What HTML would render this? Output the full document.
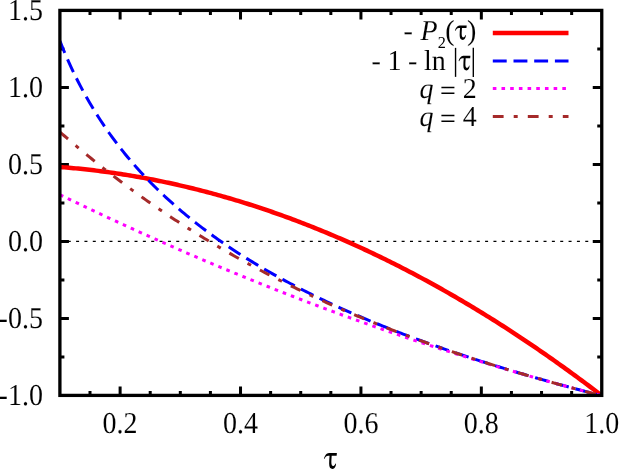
<!DOCTYPE html>
<html><head><meta charset="utf-8"><title>plot</title>
<style>html,body{margin:0;padding:0;background:#fff;overflow:hidden}body{width:619px;height:470px;font-family:"Liberation Serif",serif}</style></head>
<body>
<svg width="619" height="470" viewBox="0 0 619 470" style="display:block;will-change:transform">
<rect x="0" y="0" width="619" height="470" fill="#fff"/>
<path d="M90.00,395.4 v-4.5 M90.00,10.4 v4.5 M120.11,395.4 v-9 M120.11,10.4 v9 M150.21,395.4 v-4.5 M150.21,10.4 v4.5 M180.31,395.4 v-4.5 M180.31,10.4 v4.5 M210.41,395.4 v-4.5 M210.41,10.4 v4.5 M240.52,395.4 v-9 M240.52,10.4 v9 M270.62,395.4 v-4.5 M270.62,10.4 v4.5 M300.72,395.4 v-4.5 M300.72,10.4 v4.5 M330.83,395.4 v-4.5 M330.83,10.4 v4.5 M360.93,395.4 v-9 M360.93,10.4 v9 M391.03,395.4 v-4.5 M391.03,10.4 v4.5 M421.13,395.4 v-4.5 M421.13,10.4 v4.5 M451.24,395.4 v-4.5 M451.24,10.4 v4.5 M481.34,395.4 v-9 M481.34,10.4 v9 M511.44,395.4 v-4.5 M511.44,10.4 v4.5 M541.54,395.4 v-4.5 M541.54,10.4 v4.5 M571.65,395.4 v-4.5 M571.65,10.4 v4.5 M59.9,356.90 h4.5 M601.75,356.90 h-4.5 M59.9,318.40 h9 M601.75,318.40 h-9 M59.9,279.90 h4.5 M601.75,279.90 h-4.5 M59.9,241.40 h9 M601.75,241.40 h-9 M59.9,202.90 h4.5 M601.75,202.90 h-4.5 M59.9,164.40 h9 M601.75,164.40 h-9 M59.9,125.90 h4.5 M601.75,125.90 h-4.5 M59.9,87.40 h9 M601.75,87.40 h-9 M59.9,48.90 h4.5 M601.75,48.90 h-4.5" stroke="#000" stroke-width="3" fill="none"/>
<line x1="59.9" y1="241.40" x2="601.75" y2="241.40" stroke="#000" stroke-width="1.2" stroke-dasharray="3 5.347" stroke-dashoffset="0.5"/>
<clipPath id="c"><rect x="59.9" y="10.4" width="541.85" height="385.0"/></clipPath>
<g fill="none" clip-path="url(#c)"><g transform="translate(0.1,0.3)">
<path d="M59.90,166.71 L62.16,166.89 L64.42,167.07 L66.67,167.26 L68.93,167.45 L71.19,167.66 L73.45,167.87 L75.70,168.08 L77.96,168.30 L80.22,168.53 L82.48,168.77 L84.73,169.01 L86.99,169.26 L89.25,169.51 L91.51,169.77 L93.77,170.04 L96.02,170.31 L98.28,170.59 L100.54,170.88 L102.80,171.17 L105.05,171.47 L107.31,171.78 L109.57,172.09 L111.83,172.41 L114.08,172.74 L116.34,173.07 L118.60,173.41 L120.86,173.76 L123.12,174.11 L125.37,174.47 L127.63,174.83 L129.89,175.20 L132.15,175.58 L134.40,175.96 L136.66,176.36 L138.92,176.75 L141.18,177.16 L143.44,177.57 L145.69,177.98 L147.95,178.41 L150.21,178.84 L152.47,179.27 L154.72,179.72 L156.98,180.17 L159.24,180.62 L161.50,181.08 L163.75,181.55 L166.01,182.03 L168.27,182.51 L170.53,183.00 L172.79,183.49 L175.04,183.99 L177.30,184.50 L179.56,185.02 L181.82,185.54 L184.07,186.07 L186.33,186.60 L188.59,187.14 L190.85,187.69 L193.10,188.24 L195.36,188.80 L197.62,189.37 L199.88,189.94 L202.14,190.52 L204.39,191.10 L206.65,191.70 L208.91,192.29 L211.17,192.90 L213.42,193.51 L215.68,194.13 L217.94,194.75 L220.20,195.39 L222.46,196.02 L224.71,196.67 L226.97,197.32 L229.23,197.98 L231.49,198.64 L233.74,199.31 L236.00,199.99 L238.26,200.67 L240.52,201.36 L242.77,202.06 L245.03,202.76 L247.29,203.47 L249.55,204.18 L251.81,204.91 L254.06,205.63 L256.32,206.37 L258.58,207.11 L260.84,207.86 L263.09,208.61 L265.35,209.38 L267.61,210.14 L269.87,210.92 L272.12,211.70 L274.38,212.49 L276.64,213.28 L278.90,214.08 L281.16,214.89 L283.41,215.70 L285.67,216.52 L287.93,217.35 L290.19,218.18 L292.44,219.02 L294.70,219.86 L296.96,220.72 L299.22,221.57 L301.47,222.44 L303.73,223.31 L305.99,224.19 L308.25,225.07 L310.51,225.96 L312.76,226.86 L315.02,227.77 L317.28,228.68 L319.54,229.59 L321.79,230.52 L324.05,231.45 L326.31,232.38 L328.57,233.33 L330.83,234.28 L333.08,235.23 L335.34,236.20 L337.60,237.17 L339.86,238.14 L342.11,239.12 L344.37,240.11 L346.63,241.11 L348.89,242.11 L351.14,243.12 L353.40,244.13 L355.66,245.15 L357.92,246.18 L360.18,247.21 L362.43,248.25 L364.69,249.30 L366.95,250.36 L369.21,251.42 L371.46,252.48 L373.72,253.55 L375.98,254.63 L378.24,255.72 L380.49,256.81 L382.75,257.91 L385.01,259.02 L387.27,260.13 L389.53,261.25 L391.78,262.37 L394.04,263.50 L396.30,264.64 L398.56,265.79 L400.81,266.94 L403.07,268.10 L405.33,269.26 L407.59,270.43 L409.84,271.61 L412.10,272.79 L414.36,273.98 L416.62,275.18 L418.88,276.38 L421.13,277.59 L423.39,278.81 L425.65,280.03 L427.91,281.26 L430.16,282.49 L432.42,283.73 L434.68,284.98 L436.94,286.24 L439.20,287.50 L441.45,288.77 L443.71,290.04 L445.97,291.32 L448.23,292.61 L450.48,293.90 L452.74,295.21 L455.00,296.51 L457.26,297.83 L459.51,299.15 L461.77,300.47 L464.03,301.80 L466.29,303.14 L468.55,304.49 L470.80,305.84 L473.06,307.20 L475.32,308.57 L477.58,309.94 L479.83,311.32 L482.09,312.70 L484.35,314.09 L486.61,315.49 L488.86,316.90 L491.12,318.31 L493.38,319.72 L495.64,321.15 L497.90,322.58 L500.15,324.02 L502.41,325.46 L504.67,326.91 L506.93,328.37 L509.18,329.83 L511.44,331.30 L513.70,332.77 L515.96,334.26 L518.21,335.74 L520.47,337.24 L522.73,338.74 L524.99,340.25 L527.25,341.77 L529.50,343.29 L531.76,344.81 L534.02,346.35 L536.28,347.89 L538.53,349.44 L540.79,350.99 L543.05,352.55 L545.31,354.12 L547.57,355.69 L549.82,357.27 L552.08,358.86 L554.34,360.45 L556.60,362.05 L558.85,363.66 L561.11,365.27 L563.37,366.89 L565.63,368.51 L567.88,370.14 L570.14,371.78 L572.40,373.43 L574.66,375.08 L576.92,376.74 L579.17,378.40 L581.43,380.07 L583.69,381.75 L585.95,383.43 L588.20,385.12 L590.46,386.82 L592.72,388.52 L594.98,390.23 L597.23,391.95 L599.49,393.67 L601.75,395.40" stroke="#ff0000" stroke-width="4.5"/>
<path d="M59.90,40.80 L62.16,46.47 L64.42,51.94 L66.67,57.22 L68.93,62.33 L71.19,67.27 L73.45,72.05 L75.70,76.70 L77.96,81.21 L80.22,85.59 L82.48,89.84 L84.73,93.99 L86.99,98.02 L89.25,101.95 L91.51,105.79 L93.77,109.53 L96.02,113.18 L98.28,116.75 L100.54,120.24 L102.80,123.65 L105.05,126.98 L107.31,130.25 L109.57,133.45 L111.83,136.58 L114.08,139.65 L116.34,142.66 L118.60,145.61 L120.86,148.51 L123.12,151.35 L125.37,154.14 L127.63,156.88 L129.89,159.58 L132.15,162.22 L134.40,164.83 L136.66,167.39 L138.92,169.90 L141.18,172.38 L143.44,174.82 L145.69,177.22 L147.95,179.58 L150.21,181.91 L152.47,184.20 L154.72,186.46 L156.98,188.69 L159.24,190.88 L161.50,193.05 L163.75,195.18 L166.01,197.29 L168.27,199.36 L170.53,201.41 L172.79,203.43 L175.04,205.43 L177.30,207.40 L179.56,209.35 L181.82,211.27 L184.07,213.16 L186.33,215.04 L188.59,216.89 L190.85,218.72 L193.10,220.53 L195.36,222.31 L197.62,224.08 L199.88,225.83 L202.14,227.56 L204.39,229.26 L206.65,230.95 L208.91,232.62 L211.17,234.28 L213.42,235.91 L215.68,237.53 L217.94,239.13 L220.20,240.72 L222.46,242.29 L224.71,243.84 L226.97,245.38 L229.23,246.90 L231.49,248.41 L233.74,249.90 L236.00,251.38 L238.26,252.84 L240.52,254.29 L242.77,255.73 L245.03,257.15 L247.29,258.56 L249.55,259.96 L251.81,261.35 L254.06,262.72 L256.32,264.08 L258.58,265.43 L260.84,266.77 L263.09,268.09 L265.35,269.41 L267.61,270.71 L269.87,272.00 L272.12,273.28 L274.38,274.55 L276.64,275.81 L278.90,277.06 L281.16,278.31 L283.41,279.54 L285.67,280.76 L287.93,281.97 L290.19,283.17 L292.44,284.36 L294.70,285.54 L296.96,286.72 L299.22,287.88 L301.47,289.04 L303.73,290.19 L305.99,291.33 L308.25,292.46 L310.51,293.58 L312.76,294.70 L315.02,295.80 L317.28,296.90 L319.54,297.99 L321.79,299.07 L324.05,300.15 L326.31,301.22 L328.57,302.28 L330.83,303.33 L333.08,304.38 L335.34,305.42 L337.60,306.45 L339.86,307.48 L342.11,308.50 L344.37,309.51 L346.63,310.51 L348.89,311.51 L351.14,312.50 L353.40,313.49 L355.66,314.47 L357.92,315.44 L360.18,316.41 L362.43,317.37 L364.69,318.33 L366.95,319.28 L369.21,320.22 L371.46,321.16 L373.72,322.09 L375.98,323.02 L378.24,323.94 L380.49,324.86 L382.75,325.77 L385.01,326.67 L387.27,327.57 L389.53,328.47 L391.78,329.36 L394.04,330.24 L396.30,331.12 L398.56,331.99 L400.81,332.86 L403.07,333.73 L405.33,334.59 L407.59,335.44 L409.84,336.29 L412.10,337.14 L414.36,337.98 L416.62,338.81 L418.88,339.64 L421.13,340.47 L423.39,341.29 L425.65,342.11 L427.91,342.93 L430.16,343.74 L432.42,344.54 L434.68,345.34 L436.94,346.14 L439.20,346.93 L441.45,347.72 L443.71,348.51 L445.97,349.29 L448.23,350.07 L450.48,350.84 L452.74,351.61 L455.00,352.37 L457.26,353.14 L459.51,353.89 L461.77,354.65 L464.03,355.40 L466.29,356.15 L468.55,356.89 L470.80,357.63 L473.06,358.37 L475.32,359.10 L477.58,359.83 L479.83,360.55 L482.09,361.28 L484.35,362.00 L486.61,362.71 L488.86,363.42 L491.12,364.13 L493.38,364.84 L495.64,365.54 L497.90,366.24 L500.15,366.94 L502.41,367.63 L504.67,368.32 L506.93,369.01 L509.18,369.69 L511.44,370.37 L513.70,371.05 L515.96,371.72 L518.21,372.40 L520.47,373.07 L522.73,373.73 L524.99,374.40 L527.25,375.06 L529.50,375.71 L531.76,376.37 L534.02,377.02 L536.28,377.67 L538.53,378.32 L540.79,378.96 L543.05,379.60 L545.31,380.24 L547.57,380.88 L549.82,381.51 L552.08,382.14 L554.34,382.77 L556.60,383.39 L558.85,384.02 L561.11,384.64 L563.37,385.26 L565.63,385.87 L567.88,386.48 L570.14,387.10 L572.40,387.70 L574.66,388.31 L576.92,388.91 L579.17,389.51 L581.43,390.11 L583.69,390.71 L585.95,391.30 L588.20,391.90 L590.46,392.49 L592.72,393.07 L594.98,393.66 L597.23,394.24 L599.49,394.82 L601.75,395.40" stroke="#0000ff" stroke-width="3" stroke-dasharray="14 6.9" stroke-dashoffset="1.2"/>
<path d="M59.90,194.43 L62.16,195.53 L64.42,196.62 L66.67,197.71 L68.93,198.80 L71.19,199.89 L73.45,200.97 L75.70,202.06 L77.96,203.14 L80.22,204.22 L82.48,205.29 L84.73,206.37 L86.99,207.44 L89.25,208.51 L91.51,209.58 L93.77,210.65 L96.02,211.71 L98.28,212.77 L100.54,213.83 L102.80,214.89 L105.05,215.94 L107.31,216.99 L109.57,218.05 L111.83,219.09 L114.08,220.14 L116.34,221.18 L118.60,222.23 L120.86,223.27 L123.12,224.30 L125.37,225.34 L127.63,226.37 L129.89,227.40 L132.15,228.43 L134.40,229.46 L136.66,230.48 L138.92,231.51 L141.18,232.53 L143.44,233.55 L145.69,234.56 L147.95,235.58 L150.21,236.59 L152.47,237.60 L154.72,238.60 L156.98,239.61 L159.24,240.61 L161.50,241.61 L163.75,242.61 L166.01,243.61 L168.27,244.60 L170.53,245.60 L172.79,246.59 L175.04,247.57 L177.30,248.56 L179.56,249.54 L181.82,250.52 L184.07,251.50 L186.33,252.48 L188.59,253.46 L190.85,254.43 L193.10,255.40 L195.36,256.37 L197.62,257.33 L199.88,258.30 L202.14,259.26 L204.39,260.22 L206.65,261.18 L208.91,262.13 L211.17,263.09 L213.42,264.04 L215.68,264.98 L217.94,265.93 L220.20,266.88 L222.46,267.82 L224.71,268.76 L226.97,269.70 L229.23,270.63 L231.49,271.57 L233.74,272.50 L236.00,273.43 L238.26,274.35 L240.52,275.28 L242.77,276.20 L245.03,277.12 L247.29,278.04 L249.55,278.96 L251.81,279.87 L254.06,280.79 L256.32,281.69 L258.58,282.60 L260.84,283.51 L263.09,284.41 L265.35,285.31 L267.61,286.21 L269.87,287.11 L272.12,288.00 L274.38,288.90 L276.64,289.79 L278.90,290.68 L281.16,291.56 L283.41,292.45 L285.67,293.33 L287.93,294.21 L290.19,295.08 L292.44,295.96 L294.70,296.83 L296.96,297.70 L299.22,298.57 L301.47,299.44 L303.73,300.30 L305.99,301.17 L308.25,302.03 L310.51,302.88 L312.76,303.74 L315.02,304.59 L317.28,305.44 L319.54,306.29 L321.79,307.14 L324.05,307.99 L326.31,308.83 L328.57,309.67 L330.83,310.51 L333.08,311.34 L335.34,312.18 L337.60,313.01 L339.86,313.84 L342.11,314.67 L344.37,315.49 L346.63,316.32 L348.89,317.14 L351.14,317.96 L353.40,318.77 L355.66,319.59 L357.92,320.40 L360.18,321.21 L362.43,322.02 L364.69,322.82 L366.95,323.63 L369.21,324.43 L371.46,325.23 L373.72,326.03 L375.98,326.82 L378.24,327.61 L380.49,328.41 L382.75,329.19 L385.01,329.98 L387.27,330.77 L389.53,331.55 L391.78,332.33 L394.04,333.11 L396.30,333.88 L398.56,334.65 L400.81,335.43 L403.07,336.19 L405.33,336.96 L407.59,337.73 L409.84,338.49 L412.10,339.25 L414.36,340.01 L416.62,340.76 L418.88,341.52 L421.13,342.27 L423.39,343.02 L425.65,343.77 L427.91,344.51 L430.16,345.26 L432.42,346.00 L434.68,346.74 L436.94,347.47 L439.20,348.21 L441.45,348.94 L443.71,349.67 L445.97,350.40 L448.23,351.12 L450.48,351.85 L452.74,352.57 L455.00,353.29 L457.26,354.00 L459.51,354.72 L461.77,355.43 L464.03,356.14 L466.29,356.85 L468.55,357.56 L470.80,358.26 L473.06,358.96 L475.32,359.66 L477.58,360.36 L479.83,361.06 L482.09,361.75 L484.35,362.44 L486.61,363.13 L488.86,363.82 L491.12,364.50 L493.38,365.19 L495.64,365.87 L497.90,366.54 L500.15,367.22 L502.41,367.89 L504.67,368.57 L506.93,369.23 L509.18,369.90 L511.44,370.57 L513.70,371.23 L515.96,371.89 L518.21,372.55 L520.47,373.21 L522.73,373.86 L524.99,374.51 L527.25,375.16 L529.50,375.81 L531.76,376.46 L534.02,377.10 L536.28,377.74 L538.53,378.38 L540.79,379.02 L543.05,379.65 L545.31,380.29 L547.57,380.92 L549.82,381.54 L552.08,382.17 L554.34,382.79 L556.60,383.42 L558.85,384.04 L561.11,384.65 L563.37,385.27 L565.63,385.88 L567.88,386.49 L570.14,387.10 L572.40,387.71 L574.66,388.31 L576.92,388.92 L579.17,389.52 L581.43,390.11 L583.69,390.71 L585.95,391.30 L588.20,391.90 L590.46,392.49 L592.72,393.07 L594.98,393.66 L597.23,394.24 L599.49,394.82 L601.75,395.40" stroke="#ff00ff" stroke-width="3" stroke-dasharray="3.6 5.09"/>
<path d="M59.90,131.75 L62.16,133.73 L64.42,135.70 L66.67,137.66 L68.93,139.60 L71.19,141.54 L73.45,143.46 L75.70,145.38 L77.96,147.28 L80.22,149.17 L82.48,151.05 L84.73,152.92 L86.99,154.78 L89.25,156.63 L91.51,158.47 L93.77,160.30 L96.02,162.12 L98.28,163.92 L100.54,165.72 L102.80,167.51 L105.05,169.28 L107.31,171.05 L109.57,172.80 L111.83,174.55 L114.08,176.29 L116.34,178.01 L118.60,179.73 L120.86,181.44 L123.12,183.13 L125.37,184.82 L127.63,186.50 L129.89,188.16 L132.15,189.82 L134.40,191.47 L136.66,193.11 L138.92,194.74 L141.18,196.36 L143.44,197.97 L145.69,199.57 L147.95,201.17 L150.21,202.75 L152.47,204.32 L154.72,205.89 L156.98,207.45 L159.24,208.99 L161.50,210.53 L163.75,212.06 L166.01,213.58 L168.27,215.10 L170.53,216.60 L172.79,218.10 L175.04,219.58 L177.30,221.06 L179.56,222.53 L181.82,223.99 L184.07,225.45 L186.33,226.89 L188.59,228.33 L190.85,229.75 L193.10,231.18 L195.36,232.59 L197.62,233.99 L199.88,235.39 L202.14,236.78 L204.39,238.16 L206.65,239.53 L208.91,240.89 L211.17,242.25 L213.42,243.60 L215.68,244.94 L217.94,246.27 L220.20,247.60 L222.46,248.92 L224.71,250.23 L226.97,251.53 L229.23,252.83 L231.49,254.12 L233.74,255.40 L236.00,256.67 L238.26,257.94 L240.52,259.20 L242.77,260.46 L245.03,261.70 L247.29,262.94 L249.55,264.17 L251.81,265.40 L254.06,266.62 L256.32,267.83 L258.58,269.03 L260.84,270.23 L263.09,271.42 L265.35,272.61 L267.61,273.78 L269.87,274.95 L272.12,276.12 L274.38,277.28 L276.64,278.43 L278.90,279.58 L281.16,280.71 L283.41,281.85 L285.67,282.97 L287.93,284.09 L290.19,285.21 L292.44,286.32 L294.70,287.42 L296.96,288.51 L299.22,289.60 L301.47,290.69 L303.73,291.77 L305.99,292.84 L308.25,293.90 L310.51,294.96 L312.76,296.02 L315.02,297.07 L317.28,298.11 L319.54,299.15 L321.79,300.18 L324.05,301.21 L326.31,302.23 L328.57,303.24 L330.83,304.25 L333.08,305.26 L335.34,306.25 L337.60,307.25 L339.86,308.24 L342.11,309.22 L344.37,310.20 L346.63,311.17 L348.89,312.14 L351.14,313.10 L353.40,314.06 L355.66,315.01 L357.92,315.95 L360.18,316.90 L362.43,317.83 L364.69,318.77 L366.95,319.69 L369.21,320.61 L371.46,321.53 L373.72,322.45 L375.98,323.35 L378.24,324.26 L380.49,325.16 L382.75,326.05 L385.01,326.94 L387.27,327.82 L389.53,328.70 L391.78,329.58 L394.04,330.45 L396.30,331.32 L398.56,332.18 L400.81,333.04 L403.07,333.89 L405.33,334.74 L407.59,335.59 L409.84,336.43 L412.10,337.27 L414.36,338.10 L416.62,338.93 L418.88,339.75 L421.13,340.57 L423.39,341.39 L425.65,342.20 L427.91,343.01 L430.16,343.81 L432.42,344.61 L434.68,345.41 L436.94,346.20 L439.20,346.99 L441.45,347.78 L443.71,348.56 L445.97,349.34 L448.23,350.11 L450.48,350.88 L452.74,351.65 L455.00,352.41 L457.26,353.17 L459.51,353.92 L461.77,354.68 L464.03,355.42 L466.29,356.17 L468.55,356.91 L470.80,357.65 L473.06,358.38 L475.32,359.11 L477.58,359.84 L479.83,360.57 L482.09,361.29 L484.35,362.01 L486.61,362.72 L488.86,363.43 L491.12,364.14 L493.38,364.85 L495.64,365.55 L497.90,366.25 L500.15,366.94 L502.41,367.63 L504.67,368.32 L506.93,369.01 L509.18,369.69 L511.44,370.37 L513.70,371.05 L515.96,371.73 L518.21,372.40 L520.47,373.07 L522.73,373.73 L524.99,374.40 L527.25,375.06 L529.50,375.71 L531.76,376.37 L534.02,377.02 L536.28,377.67 L538.53,378.32 L540.79,378.96 L543.05,379.60 L545.31,380.24 L547.57,380.88 L549.82,381.51 L552.08,382.14 L554.34,382.77 L556.60,383.39 L558.85,384.02 L561.11,384.64 L563.37,385.26 L565.63,385.87 L567.88,386.48 L570.14,387.10 L572.40,387.70 L574.66,388.31 L576.92,388.91 L579.17,389.51 L581.43,390.11 L583.69,390.71 L585.95,391.30 L588.20,391.90 L590.46,392.49 L592.72,393.07 L594.98,393.66 L597.23,394.24 L599.49,394.82 L601.75,395.40" stroke="#a52a2a" stroke-width="3" stroke-dasharray="10.8 10 4 10" stroke-dashoffset="0.2"/>
</g></g>
<rect x="59.9" y="10.4" width="541.85" height="385.0" fill="none" stroke="#000" stroke-width="3.3"/>
<g font-family="'Liberation Serif', serif" font-size="28" fill="#000" stroke="#fff" stroke-width="0.08" text-rendering="geometricPrecision">
<g transform="translate(42.9,19.80) scale(1,1.085)"><text x="0" y="0" text-anchor="end">1.5</text></g>
<g transform="translate(42.9,96.80) scale(1,1.085)"><text x="0" y="0" text-anchor="end">1.0</text></g>
<g transform="translate(42.9,173.80) scale(1,1.085)"><text x="0" y="0" text-anchor="end">0.5</text></g>
<g transform="translate(42.9,250.80) scale(1,1.085)"><text x="0" y="0" text-anchor="end">0.0</text></g>
<g transform="translate(42.9,327.80) scale(1,1.085)"><text x="0" y="0" text-anchor="end">-0.5</text></g>
<g transform="translate(42.9,404.80) scale(1,1.085)"><text x="0" y="0" text-anchor="end">-1.0</text></g>
<g transform="translate(120.11,432.7) scale(1,1.085)"><text x="0" y="0" text-anchor="middle">0.2</text></g>
<g transform="translate(240.52,432.7) scale(1,1.085)"><text x="0" y="0" text-anchor="middle">0.4</text></g>
<g transform="translate(360.93,432.7) scale(1,1.085)"><text x="0" y="0" text-anchor="middle">0.6</text></g>
<g transform="translate(481.34,432.7) scale(1,1.085)"><text x="0" y="0" text-anchor="middle">0.8</text></g>
<g transform="translate(601.75,432.7) scale(1,1.085)"><text x="0" y="0" text-anchor="middle">1.0</text></g>
<g transform="translate(454.6,39.6) scale(1,1.03)"><text x="0" y="0" text-anchor="end">- <tspan font-style="italic" dx="0.8">P</tspan><tspan font-size="16.2" dy="8.0" dx="0" stroke="none">2</tspan><tspan dy="-8.0" dx="-0.5">(</tspan></text></g>
<g transform="translate(466.9,39.6) scale(1,1.03)"><text x="0" y="0">)</text></g>
<g transform="translate(445.7,70.1) scale(1,1.03)"><text x="0" y="0" text-anchor="end" word-spacing="-0.45">- 1 - ln</text></g>
<g transform="translate(452.7,70.3) scale(1,1.14)"><text x="0" y="0" stroke="none">|</text></g>
<g transform="translate(470.6,70.3) scale(1,1.14)"><text x="0" y="0" stroke="none">|</text></g>
<g transform="translate(476.2,97.7) scale(1,1.03)"><text x="0" y="0" text-anchor="end"><tspan font-style="italic" dx="0.6">q</tspan><tspan stroke="none" dy="2.6" dx="6.4">=</tspan><tspan dy="-2.6" dx="7">2</tspan></text></g>
<g transform="translate(476.2,125.5) scale(1,1.03)"><text x="0" y="0" text-anchor="end"><tspan font-style="italic" dx="0.6">q</tspan><tspan stroke="none" dy="2.6" dx="6.4">=</tspan><tspan dy="-2.6" dx="7">4</tspan></text></g>
</g>
<path d="M155,248 C170,190 205,137 255,135 L410,135 L405,190 L308,190 C304,250 300,300 303,345 C306,385 325,400 345,392 C362,385 375,365 383,343 L393,348 C390,400 365,450 325,450 C280,450 258,420 258,350 C258,290 262,240 266,190 L240,190 C205,190 185,215 168,252 Z" transform="translate(323.90,452.90) scale(0.05098) translate(-155,-135)" fill="#000"/>
<path d="M155,248 C170,190 205,137 255,135 L410,135 L405,190 L308,190 C304,250 300,300 303,345 C306,385 325,400 345,392 C362,385 375,365 383,343 L393,348 C390,400 365,450 325,450 C280,450 258,420 258,350 C258,290 262,240 266,190 L240,190 C205,190 185,215 168,252 Z" transform="translate(454.90,25.40) scale(0.04627) translate(-155,-135)" fill="#000"/>
<path d="M155,248 C170,190 205,137 255,135 L410,135 L405,190 L308,190 C304,250 300,300 303,345 C306,385 325,400 345,392 C362,385 375,365 383,343 L393,348 C390,400 365,450 325,450 C280,450 258,420 258,350 C258,290 262,240 266,190 L240,190 C205,190 185,215 168,252 Z" transform="translate(458.60,55.80) scale(0.04627) translate(-155,-135)" fill="#000"/>
<g fill="none">
<line x1="492.8" x2="568.5" y1="33.1" y2="33.1" stroke="#ff0000" stroke-width="4.5"/>
<line x1="492.8" x2="568.5" y1="60.9" y2="60.9" stroke="#0000ff" stroke-width="3" stroke-dasharray="13.9 6.8"/>
<line x1="492.8" x2="568.5" y1="88.6" y2="88.6" stroke="#ff00ff" stroke-width="3" stroke-dasharray="3.6 5.09"/>
<line x1="492.8" x2="568.5" y1="116.5" y2="116.5" stroke="#a52a2a" stroke-width="3" stroke-dasharray="10.8 10.1 4 10.1"/>
</g>
</svg>
</body></html>
